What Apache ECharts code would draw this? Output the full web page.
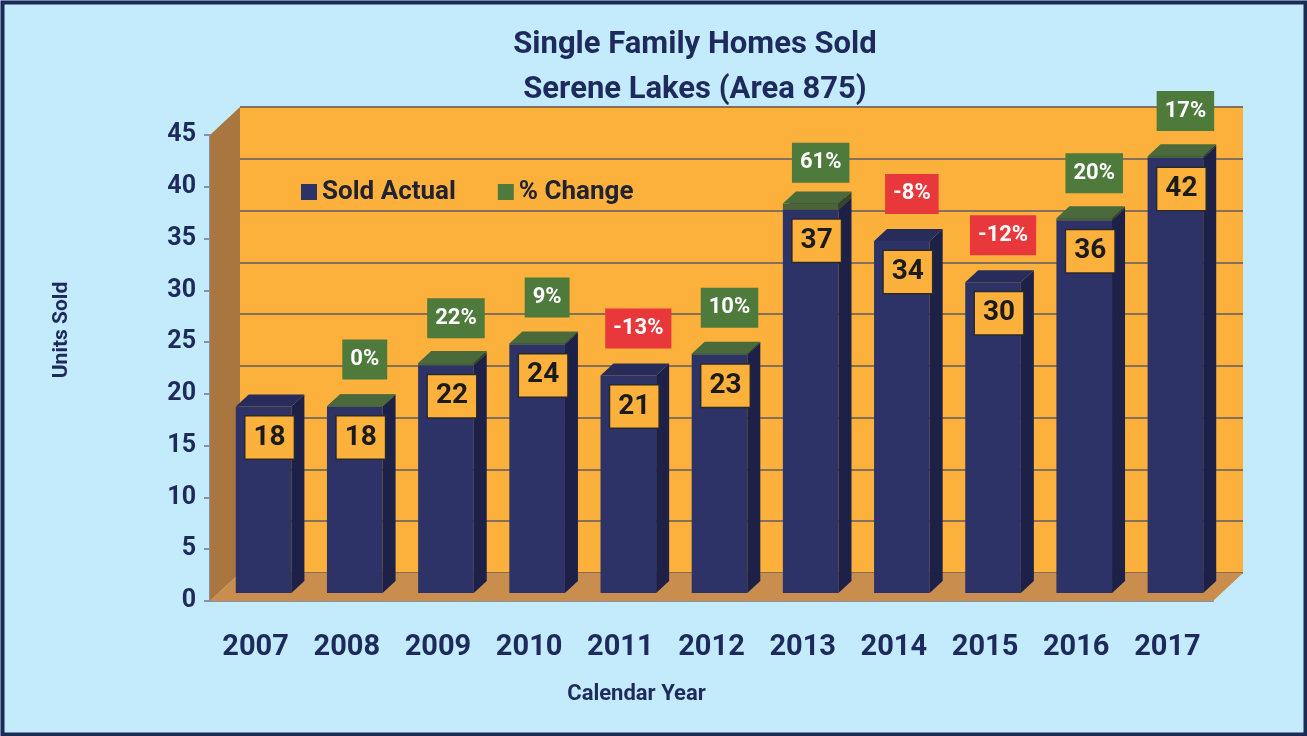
<!DOCTYPE html>
<html>
<head>
<meta charset="utf-8">
<script src="https://cdn.jsdelivr.net/npm/echarts@6/dist/echarts.min.js"></script>
<style>
  html, body { margin: 0; padding: 0; background: #c3ebfb; }
  #chart { width: 1307px; height: 736px; }
</style>
</head>
<body>
<div id="chart"></div>
<script>
// data
const years = ['2007', '2008', '2009', '2010', '2011', '2012', '2013', '2014', '2015', '2016', '2017'];
const soldActual = [18, 18, 22, 24, 21, 23, 37, 34, 30, 36, 42];
const pctChange = [null, 0, 22, 9, -13, 10, 61, -8, -12, 20, 17];

const FONT = 'Roboto, "Liberation Sans", sans-serif';
const NAVY = '#2d3366';
const GREEN = '#4e7a3c';
// depth of the 3D box (back wall vs front plane) and of each bar
const DX = 30, DY = -28;
const BDX = 13, BDY = -12;
const BAR_SHIFT = 8;

const chart = echarts.init(document.getElementById('chart'));

// left wall + floor, drawn from the back grid's rect
function renderWalls(params, api) {
  const cs = params.coordSys;
  const fx = cs.x - DX, fy = cs.y - DY; // front top-left
  const bottomB = cs.y + cs.height, bottomF = bottomB - DY;
  return {
    type: 'group',
    children: [
      {
        type: 'polygon',
        shape: { points: [[fx, fy], [cs.x, cs.y], [cs.x, bottomB], [fx, bottomF]] },
        style: { fill: '#a9763f' }
      },
      {
        type: 'polygon',
        shape: { points: [[fx, bottomF], [cs.x, bottomB], [cs.x + cs.width, bottomB], [fx + cs.width, bottomF]] },
        style: { fill: '#c98d4e' }
      }
    ]
  };
}

function renderBar(params, api) {
  const i = api.value(0), v = api.value(1);
  const top = api.coord([i, v]);
  const base = api.coord([i, 0]);
  const w = api.size([1, 0])[0] * 0.61;
  const x0 = top[0] - w / 2 + BAR_SHIFT, x1 = x0 + w;
  const yt = top[1] - BAR_SHIFT, yb = base[1] - BAR_SHIFT;
  return {
    type: 'group',
    children: [
      { type: 'rect', shape: { x: x0, y: yt, width: w, height: yb - yt }, style: { fill: NAVY } },
      {
        type: 'polygon',
        shape: { points: [[x1, yt], [x1 + BDX, yt + BDY], [x1 + BDX, yb + BDY], [x1, yb]] },
        style: { fill: '#1d2147' }
      },
      {
        type: 'polygon',
        shape: { points: [[x0, yt], [x0 + BDX, yt + BDY], [x1 + BDX, yt + BDY], [x1, yt]] },
        style: { fill: '#272c5a' }
      },
      {
        type: 'text',
        style: {
          text: String(v), x: (x0 + x1) / 2 + 6, y: yt + 31,
          align: 'center', verticalAlign: 'middle',
          font: 'bold 28px ' + FONT, fill: '#1b1b1b',
          backgroundColor: '#fbb13c', borderColor: '#2a2a2a', borderWidth: 1.5,
          padding: [8, 8, 6, 8]
        }
      }
    ]
  };
}

function renderPct(params, api) {
  const i = api.value(0), v = api.value(1);
  const p = pctChange[params.dataIndex];
  if (p === null) return null;
  const w = api.size([1, 0])[0] * 0.61;
  const top = api.coord([i, v]);
  const x0 = top[0] - w / 2 + BAR_SHIFT, x1 = x0 + w;
  const yt = top[1] - BAR_SHIFT;
  const children = [];
  if (p >= 0) {
    const capTop = api.coord([i, v + p / 100])[1] - BAR_SHIFT;
    children.push(
      { type: 'rect', shape: { x: x0, y: capTop, width: w, height: yt - capTop }, style: { fill: '#4a6438' } },
      {
        type: 'polygon',
        shape: { points: [[x1, capTop], [x1 + BDX, capTop + BDY], [x1 + BDX, yt + BDY], [x1, yt]] },
        style: { fill: '#34472a' }
      },
      {
        type: 'polygon',
        shape: { points: [[x0, capTop], [x0 + BDX, capTop + BDY], [x1 + BDX, capTop + BDY], [x1, capTop]] },
        style: { fill: '#4a6a3c' }
      }
    );
  }
  children.push({
    type: 'text',
    style: {
      text: p + '%', x: (x0 + x1) / 2 + 10, y: yt - 47,
      align: 'center', verticalAlign: 'middle',
      font: 'bold 22px ' + FONT, fill: '#ffffff',
      backgroundColor: p < 0 ? '#e8383c' : GREEN,
      padding: [10, 8, 8, 8]
    }
  });
  return { type: 'group', children: children };
}

const barData = years.map((y, i) => [i, soldActual[i]]);

const option = {
  backgroundColor: '#c3ebfb',
  animation: false,
  title: {
    text: 'Single Family Homes Sold\nSerene Lakes (Area 875)',
    left: 690, top: 18, textAlign: 'center',
    textStyle: { fontFamily: FONT, fontWeight: 'bold', fontSize: 31, color: '#1e2a5c', lineHeight: 45 }
  },
  legend: {
    data: ['Sold Actual', '% Change'],
    left: 296, top: 174,
    icon: 'rect', itemWidth: 16, itemHeight: 16, itemGap: 42, itemStyle: { borderWidth: 0 },
    textStyle: { fontFamily: FONT, fontWeight: 'bold', fontSize: 26, color: '#222233' }
  },
  graphic: [
    {
      type: 'rect', left: 0, top: 0, z: 100, silent: true,
      shape: { x: 2, y: 2, width: 1303, height: 732 },
      style: { fill: 'none', stroke: '#1d2a55', lineWidth: 4 }
    }
  ],
  grid: [
    // back wall
    { left: 240, top: 107, width: 1003, height: 466, show: true, backgroundColor: '#fbb13c', borderWidth: 0 },
    // front plane
    { left: 210, top: 135, width: 1003, height: 466 }
  ],
  xAxis: [
    { gridIndex: 0, type: 'category', data: years, show: false },
    {
      gridIndex: 1, type: 'category', data: years,
      name: 'Calendar Year', nameLocation: 'middle', nameGap: 82,
      nameTextStyle: { fontFamily: FONT, fontWeight: 'bold', fontSize: 22, color: '#1e2a5c', padding: [0, 150, 0, 0] },
      axisLine: { lineStyle: { color: '#8592a8', width: 2 } },
      axisTick: { length: 8, lineStyle: { color: '#8592a8', width: 2 } },
      axisLabel: { interval: 0, margin: 32, fontFamily: FONT, fontWeight: 'bold', fontSize: 29, color: '#1e2a5c' }
    }
  ],
  yAxis: [
    {
      gridIndex: 0, type: 'value', min: 0, max: 45, interval: 5,
      axisLine: { show: false }, axisTick: { show: false }, axisLabel: { show: false },
      splitLine: { lineStyle: { color: '#86705a', width: 2 } }
    },
    {
      gridIndex: 1, type: 'value', min: 0, max: 45, interval: 5,
      name: 'Units Sold', nameLocation: 'middle', nameGap: 138, nameRotate: 90,
      nameTextStyle: { fontFamily: FONT, fontWeight: 'bold', fontSize: 21, color: '#1e2a5c', padding: [0, 0, 0, 76] },
      axisLine: { show: true, lineStyle: { color: '#8592a8', width: 2 } },
      axisTick: { show: true, length: 6, lineStyle: { color: '#8592a8', width: 2 } },
      axisLabel: { margin: 14, fontFamily: FONT, fontWeight: 'bold', fontSize: 25, color: '#1e2a5c' },
      splitLine: { show: false }
    }
  ],
  series: [
    {
      type: 'custom', name: 'walls', xAxisIndex: 0, yAxisIndex: 0,
      silent: true, z: 1, data: [[0, 0]], renderItem: renderWalls
    },
    {
      type: 'custom', name: 'Sold Actual', xAxisIndex: 1, yAxisIndex: 1,
      itemStyle: { color: NAVY }, z: 3,
      data: barData, renderItem: renderBar
    },
    {
      type: 'custom', name: '% Change', xAxisIndex: 1, yAxisIndex: 1,
      itemStyle: { color: GREEN }, z: 4,
      data: barData, renderItem: renderPct
    }
  ]
};

chart.setOption(option);
</script>
</body>
</html>
